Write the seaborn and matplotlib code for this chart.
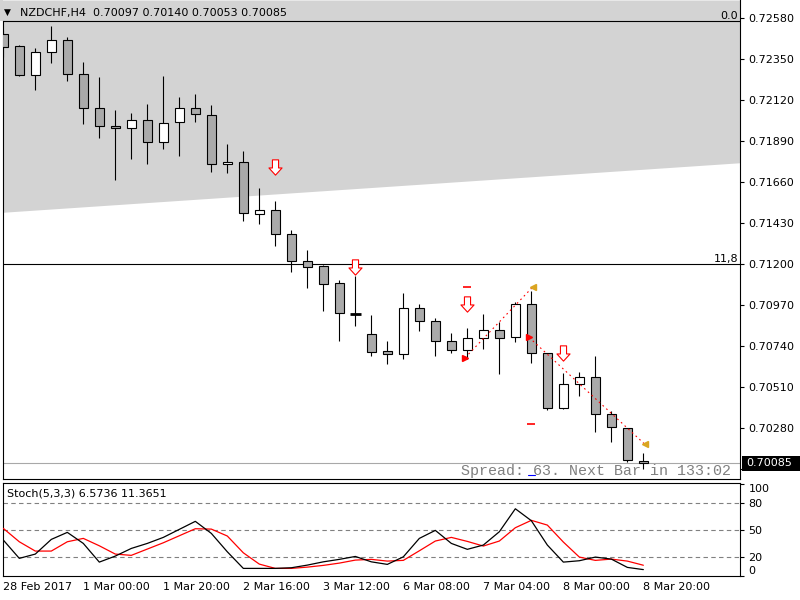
import numpy as np
import pandas as pd
import matplotlib
matplotlib.use("Agg")
import matplotlib.pyplot as plt
import seaborn as sns
from matplotlib.path import Path
from matplotlib.patches import Rectangle
from matplotlib.lines import Line2D
import matplotlib.transforms as mtransforms

# ---------------- data ----------------
symbol_title = "NZDCHF,H4  0.70097 0.70140 0.70053 0.70085"
stoch_title = "Stoch(5,3,3) 6.5736 11.3651"
spread_text = "Spread: 63. Next Bar in 133:02"

opens = [0.72492, 0.72425, 0.72260, 0.72389, 0.72457, 0.72266, 0.72075, 0.71974,
         0.71963, 0.72008, 0.71884, 0.71997, 0.72075, 0.72036, 0.71761, 0.71772,
         0.71481, 0.71503, 0.71368, 0.71217, 0.71189, 0.71093, 0.70923, 0.70807,
         0.70712, 0.70695, 0.70953, 0.70880, 0.70768, 0.70718, 0.70785, 0.70830,
         0.70790, 0.70976, 0.70701, 0.70392, 0.70527, 0.70566, 0.70359, 0.70280,
         0.70097]
highs = [0.72514, 0.72430, 0.72413, 0.72537, 0.72473, 0.72333, 0.72249, 0.72066,
         0.72047, 0.72099, 0.72256, 0.72139, 0.72155, 0.72094, 0.71873, 0.71836,
         0.71626, 0.71555, 0.71392, 0.71280, 0.71196, 0.71112, 0.71134, 0.70916,
         0.70770, 0.71039, 0.70977, 0.70899, 0.70813, 0.70841, 0.70921, 0.70878,
         0.70987, 0.71050, 0.70703, 0.70590, 0.70596, 0.70684, 0.70375, 0.70282,
         0.70140]
lows = [0.72365, 0.72258, 0.72180, 0.72331, 0.72230, 0.71989, 0.71910, 0.71675,
        0.71792, 0.71764, 0.71848, 0.71809, 0.71997, 0.71719, 0.71714, 0.71445,
        0.71428, 0.71304, 0.71159, 0.71069, 0.70940, 0.70771, 0.70856, 0.70687,
        0.70639, 0.70670, 0.70828, 0.70687, 0.70704, 0.70667, 0.70723, 0.70583,
        0.70766, 0.70648, 0.70384, 0.70387, 0.70463, 0.70261, 0.70205, 0.70089,
        0.70053]
closes = [0.72421, 0.72260, 0.72389, 0.72457, 0.72266, 0.72075, 0.71974, 0.71963,
          0.72008, 0.71884, 0.71991, 0.72075, 0.72041, 0.71761, 0.71772, 0.71486,
          0.71503, 0.71368, 0.71217, 0.71183, 0.71088, 0.70925, 0.70923, 0.70706,
          0.70695, 0.70953, 0.70880, 0.70768, 0.70718, 0.70785, 0.70830, 0.70788,
          0.70976, 0.70701, 0.70392, 0.70527, 0.70566, 0.70359, 0.70286, 0.70100,
          0.70085]

stoch_main = [39.0, 18.9, 23.6, 39.7, 47.4, 35.3, 14.8, 21.4, 29.8, 35.3,
              41.9, 50.7, 59.5, 46.3, 26.1, 7.9, 7.9, 7.9, 8.6, 11.5,
              15.1, 17.8, 21.0, 15.1, 12.3, 20.6, 40.8, 49.6, 35.3, 28.8,
              33.5, 48.1, 73.3, 60.2, 33.5, 14.8, 16.3, 20.3, 18.1, 9.0,
              6.5736]
stoch_signal = [51.8, 37.1, 26.9, 26.9, 37.1, 40.8, 32.7, 23.6, 22.2, 29.1,
                36.0, 43.7, 51.4, 51.0, 43.4, 25.0, 12.6, 7.9, 7.9, 9.3,
                11.2, 13.7, 17.0, 17.8, 15.9, 16.7, 27.2, 37.9, 41.9, 37.5,
                32.4, 37.9, 52.5, 60.6, 55.4, 36.8, 20.3, 16.7, 18.1, 15.9,
                11.3651]

x_tick_pos = [0, 5, 10, 15, 20, 25, 30, 35, 40]
x_tick_labels = ["28 Feb 2017", "1 Mar 00:00", "1 Mar 20:00", "2 Mar 16:00",
                 "3 Mar 12:00", "6 Mar 08:00", "7 Mar 04:00", "8 Mar 00:00",
                 "8 Mar 20:00"]
price_ticks = [0.72580, 0.72350, 0.72120, 0.71890, 0.71660, 0.71430, 0.71200,
               0.70970, 0.70740, 0.70510, 0.70280, 0.70050]
stoch_ticks = [0, 20, 50, 80, 100]
stoch_levels = [20, 50, 80]

channel_x = [-0.05, 46.04]
channel_low = [0.71492, 0.71770]
fib_levels = [0.72567, 0.71200]
fib_labels = ["0.0", "11,8"]
bid_price = 0.70085
bid_label = "0.70085"

arrow_bars = [17, 22, 29, 35]
arrow_prices = [0.71745, 0.71183, 0.70976, 0.70700]
dash_bars = [29, 33]
dash_prices = [0.71073, 0.70302]
trade1_x = [28.86, 33.1]
trade1_p = [0.70676, 0.71074]
trade2_x = [32.86, 40.1]
trade2_p = [0.70790, 0.70190]

# ---------------- style ----------------
sns.set_style("white", rc={"axes.edgecolor": "black", "text.color": "black",
                           "xtick.color": "black", "ytick.color": "black",
                           "axes.labelcolor": "black"})
plt.rcParams["font.family"] = ["DejaVu Sans"]
plt.rcParams["font.size"] = 8

W, H = 800, 600
fig = plt.figure(figsize=(8, 6), dpi=100)
fig.patch.set_facecolor("white")

def fx(px):
    return px / W

def fy(py):
    return 1 - py / H

main_left, main_right = 2.5, 740
ax = fig.add_axes([fx(main_left), fy(479.3), fx(main_right - main_left), 479.3 / H])
ax2 = fig.add_axes([fx(main_left), fy(575.6), fx(main_right - main_left), (575.6 - 482.5) / H])

xlim = (-0.05, 46.04)
ylim = (0.69994, 0.72683)

# gray strip left of the chart under the title (part of the filled object area)
fig.add_artist(Rectangle((0, fy(20.6)), fx(main_left), 20.6 / H, transform=fig.transFigure,
                         facecolor="#D3D3D3", edgecolor="none", zorder=-1))

# ---------------- main panel ----------------
ax.set_xlim(*xlim)
ax.set_ylim(*ylim)
ax.fill_between(channel_x, channel_low, [ylim[1], ylim[1]], color="#D3D3D3", lw=0, zorder=0)
for lvl in fib_levels:
    ax.axhline(lvl, color="black", lw=0.8, zorder=1)
blend = mtransforms.blended_transform_factory(ax.transAxes, ax.transData)
for lvl, lab in zip(fib_levels, fib_labels):
    ax.text(0.9975, lvl, lab, transform=blend, ha="right", va="bottom", fontsize=8)
ax.axhline(bid_price, color="#A8A8A8", lw=0.8, zorder=1)

idx = np.arange(len(opens))
o = np.array(opens)
c = np.array(closes)
hi = np.array(highs)
lo = np.array(lows)
ax.vlines(idx, lo, hi, color="black", lw=0.8, zorder=3)
body_col = np.where(c > o, "white", "#AAAAAA")
ax.bar(idx, np.abs(c - o), bottom=np.minimum(o, c), width=0.6, color=body_col,
       edgecolor="black", linewidth=0.8, zorder=4)
doji = np.isclose(o, c)
ax.hlines(o[doji], idx[doji] - 0.33, idx[doji] + 0.33, color="black", lw=2, zorder=5)

# sell arrows (hollow red block arrows)
arrow_path = Path([(-0.2, 0.5), (0.2, 0.5), (0.2, -0.03), (0.43, -0.03),
                   (0.0, -0.5), (-0.43, -0.03), (-0.2, -0.03), (-0.2, 0.5)],
                  [Path.MOVETO] + [Path.LINETO] * 6 + [Path.CLOSEPOLY])
ax.plot(arrow_bars, arrow_prices, ls="none", marker=arrow_path, markersize=11,
        markerfacecolor="white", markeredgecolor="red", markeredgewidth=0.8, zorder=6)
ax.plot(dash_bars, dash_prices, ls="none", marker="_", markersize=6,
        color="red", markeredgewidth=1.2, zorder=6)

for tx, tp in [(trade1_x, trade1_p), (trade2_x, trade2_p)]:
    ax.plot(tx, tp, color="red", lw=0.8, ls=(0, (1.5, 3)), zorder=6)
    ax.plot(tx[0], tp[0], marker=">", markersize=5, color="red", ls="none", zorder=7)
    ax.plot(tx[1], tp[1], marker="<", markersize=5, color="#DAA520", ls="none", zorder=7)

ax.yaxis.tick_right()
ax.set_yticks(price_ticks)
# lowest label is hidden behind the bid-price box in the reference
ax.set_yticklabels([f"{p:.5f}" if p > bid_price else "" for p in price_ticks])
ax.tick_params(axis="y", direction="out", length=3, width=0.8, pad=3, labelsize=8)
ax.set_xticks([])
ax.spines["top"].set_visible(False)
for s in ["left", "right", "bottom"]:
    ax.spines[s].set_linewidth(0.8)
    ax.spines[s].set_color("black")
ax.spines["left"].set_bounds(ylim[0], fib_levels[0])

# ---------------- stochastic panel ----------------
stoch_df = pd.DataFrame({"bar": idx, "main": stoch_main, "signal": stoch_signal})
ax2.set_xlim(*xlim)
ax2.set_ylim(0, 102.1)
for lvl in stoch_levels:
    ax2.axhline(lvl, color="#808080", lw=0.8, ls=(0, (4, 3)), zorder=1)
sns.lineplot(data=stoch_df, x="bar", y="signal", ax=ax2, color="red", linewidth=0.9, legend=False, zorder=3)
sns.lineplot(data=stoch_df, x="bar", y="main", ax=ax2, color="black", linewidth=0.9, legend=False, zorder=4)
ax2.set_xlabel("")
ax2.set_ylabel("")
ax2.yaxis.tick_right()
ax2.set_yticks(stoch_ticks)
ax2.set_yticklabels([str(t) for t in stoch_ticks])
ax2.tick_params(axis="y", direction="out", length=3, width=0.8, pad=3, labelsize=8)
for lab, t in zip(ax2.get_yticklabels(), stoch_ticks):
    if t == 100:
        lab.set_va("top")
    elif t == 0:
        lab.set_va("bottom")
ax2.set_xticks(x_tick_pos)
ax2.set_xticklabels(x_tick_labels)
ax2.tick_params(axis="x", direction="out", length=3, width=0.8, pad=1.5, labelsize=8)
for lab in ax2.get_xticklabels():
    lab.set_ha("left")
for s in ax2.spines.values():
    s.set_linewidth(0.8)
    s.set_color("black")
    s.set_visible(True)

# ---------------- texts / overlays ----------------
fig.text(fx(4), fy(12.5), "\u25bc", fontsize=6.5, va="center", ha="left")
fig.text(fx(20.5), fy(13), symbol_title, fontsize=8, va="center", ha="left")
fig.text(fx(7), fy(494), stoch_title, fontsize=8, va="center", ha="left")
fig.text(fx(460.7), fy(475.3), spread_text, family="Liberation Mono", fontsize=10.8,
         color="#808080", va="baseline", ha="left", zorder=8)
fig.add_artist(Line2D([fx(528), fx(535)], [fy(474.5), fy(474.5)], transform=fig.transFigure,
                      color="blue", lw=0.8, zorder=8))
fig.add_artist(Rectangle((fx(741.5), fy(470.5)), fx(58.5), 15 / H, transform=fig.transFigure,
                         facecolor="black", edgecolor="none", zorder=10))
fig.text(fx(746), fy(463), bid_label, color="white", fontsize=8, va="center", ha="left", zorder=11)

fig.savefig("out.png", dpi=100)
